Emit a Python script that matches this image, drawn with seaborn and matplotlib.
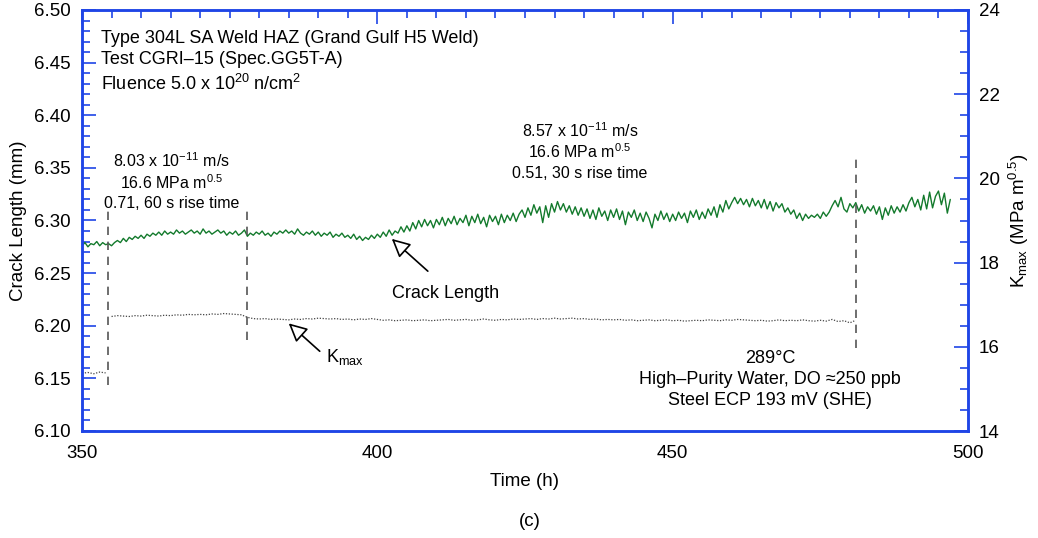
import numpy as np
import matplotlib
matplotlib.use("Agg")
import matplotlib.pyplot as plt
from matplotlib.ticker import MultipleLocator, FormatStrFormatter
import seaborn as sns

# ---------------- data ----------------
crack_t_start, crack_t_end = 350.0, 497.0
crack_length = [
    6.276, 6.279, 6.275, 6.278, 6.277, 6.280, 6.276, 6.279, 6.277, 6.278,
    6.276, 6.279, 6.281, 6.279, 6.283, 6.280, 6.284, 6.282, 6.285, 6.283,
    6.286, 6.283, 6.287, 6.285, 6.288, 6.286, 6.289, 6.286, 6.290, 6.287,
    6.289, 6.287, 6.291, 6.288, 6.290, 6.287, 6.289, 6.291, 6.288, 6.290,
    6.287, 6.292, 6.288, 6.290, 6.287, 6.289, 6.291, 6.288, 6.290, 6.286,
    6.289, 6.287, 6.290, 6.286, 6.288, 6.291, 6.285, 6.288, 6.286, 6.289,
    6.287, 6.290, 6.286, 6.288, 6.285, 6.289, 6.287, 6.290, 6.288, 6.291,
    6.288, 6.290, 6.287, 6.292, 6.288, 6.286, 6.289, 6.287, 6.290, 6.286,
    6.289, 6.285, 6.288, 6.286, 6.289, 6.284, 6.287, 6.285, 6.288, 6.284,
    6.286, 6.283, 6.287, 6.282, 6.285, 6.281, 6.284, 6.282, 6.286, 6.283,
    6.287, 6.284, 6.289, 6.285, 6.291, 6.286, 6.290, 6.288, 6.294, 6.289,
    6.295, 6.290, 6.298, 6.292, 6.300, 6.294, 6.301, 6.295, 6.300, 6.293,
    6.301, 6.296, 6.303, 6.295, 6.302, 6.297, 6.304, 6.296, 6.302, 6.298,
    6.305, 6.295, 6.304, 6.298, 6.306, 6.297, 6.303, 6.294, 6.305, 6.299,
    6.304, 6.296, 6.306, 6.298, 6.305, 6.300, 6.307, 6.299, 6.306, 6.310,
    6.303, 6.312, 6.305, 6.315, 6.307, 6.313, 6.298, 6.314, 6.303, 6.316,
    6.308, 6.318, 6.310, 6.316, 6.308, 6.314, 6.306, 6.313, 6.305, 6.312,
    6.304, 6.311, 6.302, 6.310, 6.301, 6.312, 6.304, 6.309, 6.300, 6.310,
    6.303, 6.311, 6.301, 6.309, 6.296, 6.308, 6.303, 6.310, 6.300, 6.307,
    6.299, 6.308, 6.302, 6.293, 6.306, 6.300, 6.309, 6.301, 6.307, 6.299,
    6.306, 6.300, 6.308, 6.302, 6.307, 6.298, 6.309, 6.303, 6.310, 6.301,
    6.308, 6.302, 6.311, 6.305, 6.313, 6.303, 6.315, 6.308, 6.319, 6.311,
    6.317, 6.322, 6.316, 6.321, 6.315, 6.320, 6.313, 6.321, 6.314, 6.319,
    6.312, 6.320, 6.311, 6.318, 6.309, 6.317, 6.312, 6.316, 6.308, 6.312,
    6.306, 6.310, 6.302, 6.307, 6.300, 6.306, 6.302, 6.305, 6.303, 6.306,
    6.302, 6.308, 6.304, 6.308, 6.314, 6.319, 6.313, 6.322, 6.311, 6.308,
    6.316, 6.312, 6.317, 6.309, 6.315, 6.307, 6.313, 6.309, 6.314, 6.306,
    6.313, 6.301, 6.312, 6.305, 6.314, 6.307, 6.313, 6.308, 6.315, 6.309,
    6.317, 6.322, 6.313, 6.320, 6.310, 6.324, 6.311, 6.327, 6.312, 6.323,
    6.328, 6.315, 6.326, 6.307, 6.320,
]

kmax_seg1_t = [350, 351, 352, 353, 354]
kmax_seg1 = [15.37, 15.39, 15.36, 15.40, 15.38]
kmax_seg2_t_start, kmax_seg2_t_end = 355.0, 481.0
kmax_seg2 = [
    16.72, 16.74, 16.73, 16.72, 16.74,
    16.73, 16.75, 16.74, 16.73, 16.75,
    16.74, 16.76, 16.75, 16.77, 16.76,
    16.77, 16.76, 16.78, 16.77, 16.79,
    16.78, 16.77, 16.76, 16.70, 16.67,
    16.66, 16.67, 16.65, 16.66, 16.65,
    16.64, 16.66, 16.65, 16.67, 16.66,
    16.68, 16.67, 16.66, 16.67, 16.65,
    16.66, 16.64, 16.66, 16.65, 16.67,
    16.65, 16.63, 16.64, 16.62, 16.63,
    16.64, 16.62, 16.63, 16.64, 16.62,
    16.63, 16.64, 16.65, 16.63, 16.64,
    16.65, 16.63, 16.64, 16.66, 16.64,
    16.63, 16.65, 16.64, 16.66, 16.65,
    16.66, 16.67, 16.65, 16.67, 16.66,
    16.68, 16.66, 16.67, 16.68, 16.66,
    16.67, 16.65, 16.66, 16.64, 16.65,
    16.64, 16.65, 16.63, 16.64, 16.62,
    16.63, 16.64, 16.62, 16.63, 16.64,
    16.62, 16.63, 16.61, 16.62, 16.63,
    16.62, 16.64, 16.63, 16.62, 16.64,
    16.63, 16.65, 16.64, 16.63, 16.62,
    16.63, 16.61, 16.62, 16.64, 16.62,
    16.63, 16.62, 16.64, 16.62, 16.61,
    16.63, 16.61, 16.65, 16.60, 16.62,
    16.57, 16.63,
]

event_times = [354.4, 377.95, 481.0]
event_top = [6.3147, 6.3147, 6.3584]
event_bottom = [6.1437, 6.1865, 6.1789]

# ---------------- style ----------------
sns.set_theme(style="white")
plt.rcParams["font.family"] = ["Liberation Sans", "DejaVu Sans"]
plt.rcParams["mathtext.fontset"] = "custom"
plt.rcParams["mathtext.rm"] = "Liberation Sans"
plt.rcParams["mathtext.it"] = "Liberation Sans:italic"
plt.rcParams["mathtext.default"] = "regular"
plt.rcParams["text.color"] = "black"
plt.rcParams["axes.labelcolor"] = "black"
plt.rcParams["xtick.labelcolor"] = "black"
plt.rcParams["ytick.labelcolor"] = "black"

BLUE = "#1f45e6"
GREEN = "#137a2c"
TFS = 13.5   # tick labels
LFS = 13.5   # axis labels
FS = 13      # annotation text
FS_MID = 11.5

fig = plt.figure(figsize=(10.38, 5.38), dpi=100)
ax = fig.add_axes([82 / 1038, 1 - 431 / 538, (968 - 82) / 1038, (431 - 10) / 538])
ax2 = ax.twinx()

crack_t = np.linspace(crack_t_start, crack_t_end, len(crack_length))
sns.lineplot(x=crack_t, y=crack_length, ax=ax, color=GREEN, lw=1.0,
             estimator=None, sort=False)

kmax_seg2_t = np.linspace(kmax_seg2_t_start, kmax_seg2_t_end, len(kmax_seg2))
for tt, kk in [(kmax_seg1_t, kmax_seg1), (kmax_seg2_t, kmax_seg2)]:
    sns.lineplot(x=tt, y=kk, ax=ax2, color="#444444", lw=0.9,
                 linestyle=(0, (1, 1.3)), estimator=None, sort=False)

ax.vlines(event_times, event_bottom, event_top, colors="#555555",
          linestyles=(0, (5, 4)), lw=1.2)

ax.set_xlim(350, 500)
ax.set_ylim(6.10, 6.50)
ax2.set_ylim(14, 24)

ax.xaxis.set_major_locator(MultipleLocator(50))
ax.xaxis.set_minor_locator(MultipleLocator(5))
ax.yaxis.set_major_locator(MultipleLocator(0.05))
ax.yaxis.set_minor_locator(MultipleLocator(0.01))
ax.yaxis.set_major_formatter(FormatStrFormatter("%.2f"))
ax2.yaxis.set_major_locator(MultipleLocator(2))
ax2.yaxis.set_minor_locator(MultipleLocator(0.5))

for a in (ax, ax2):
    for s in a.spines.values():
        s.set_color(BLUE)
        s.set_linewidth(1.8)
        s.set_visible(True)
ax.tick_params(axis="both", which="both", direction="in", color=BLUE,
               labelsize=TFS, width=1.2, top=True, right=False)
ax.tick_params(axis="x", pad=10)
ax.tick_params(axis="y", pad=8)
ax.tick_params(which="major", length=10)
ax.tick_params(which="minor", length=6)
ax2.tick_params(axis="y", which="both", direction="in", color=BLUE,
                labelsize=TFS, width=1.2, pad=8)
ax2.tick_params(which="major", length=10)
ax2.tick_params(which="minor", length=6)

ax.set_xlabel("Time (h)", fontsize=LFS, labelpad=8)
ax.set_ylabel("Crack Length (mm)", fontsize=LFS)
ax2.set_ylabel(r"K$_{max}$ (MPa m$^{0.5}$)", fontsize=LFS)
ax.yaxis.set_label_coords(-0.062, 0.5)
ax2.yaxis.set_label_coords(1.044, 0.5)
ax.grid(False)
ax2.grid(False)

# text annotations
ax.text(353.2, 6.4689, "Type 304L SA Weld HAZ (Grand Gulf H5 Weld)", fontsize=FS, va="baseline")
ax.text(353.2, 6.4487, "Test CGRI\u201315 (Spec.GG5T-A)", fontsize=FS, va="baseline")
ax.text(353.2, 6.4240, r"Fluence 5.0 x 10$^{20}$ n/cm$^{2}$", fontsize=FS, va="baseline")

ax.text(365.15, 6.3511, r"8.03 x 10$^{-11}$ m/s", fontsize=FS_MID, ha="center", va="baseline")
ax.text(365.15, 6.3296, r"16.6 MPa m$^{0.5}$", fontsize=FS_MID, ha="center", va="baseline")
ax.text(365.15, 6.3116, "0.71, 60 s rise time", fontsize=FS_MID, ha="center", va="baseline")

ax.text(434.3, 6.3796, r"8.57 x 10$^{-11}$ m/s", fontsize=FS_MID, ha="center", va="baseline")
ax.text(434.3, 6.3591, r"16.6 MPa m$^{0.5}$", fontsize=FS_MID, ha="center", va="baseline")
ax.text(434.3, 6.3401, "0.51, 30 s rise time", fontsize=FS_MID, ha="center", va="baseline")

ax.text(466.5, 6.1643, "289\u00b0C", fontsize=FS, ha="center", va="baseline")
ax.text(466.5, 6.1447, "High\u2013Purity Water, DO \u2248250 ppb", fontsize=FS, ha="center", va="baseline")
ax.text(466.5, 6.1247, "Steel ECP 193 mV (SHE)", fontsize=FS, ha="center", va="baseline")

arrow = dict(arrowstyle="-|>", fc="white", ec="black", lw=1.2, mutation_scale=28)
ax.annotate("", xy=(402.1, 6.2843), xytext=(408.9, 6.2501), arrowprops=arrow)
ax.text(411.6, 6.2261, "Crack Length", fontsize=FS, ha="center", va="baseline")

ax2.annotate("", xy=(384.65, 16.60), xytext=(390.6, 15.85), arrowprops=arrow)
ax2.text(391.3, 15.76, r"K$_{max}$", fontsize=FS, ha="left", va="center")

fig.text(530 / 1038, 1 - 521 / 538, "(c)", fontsize=LFS, ha="center", va="center")

fig.savefig("out.png", dpi=100)
